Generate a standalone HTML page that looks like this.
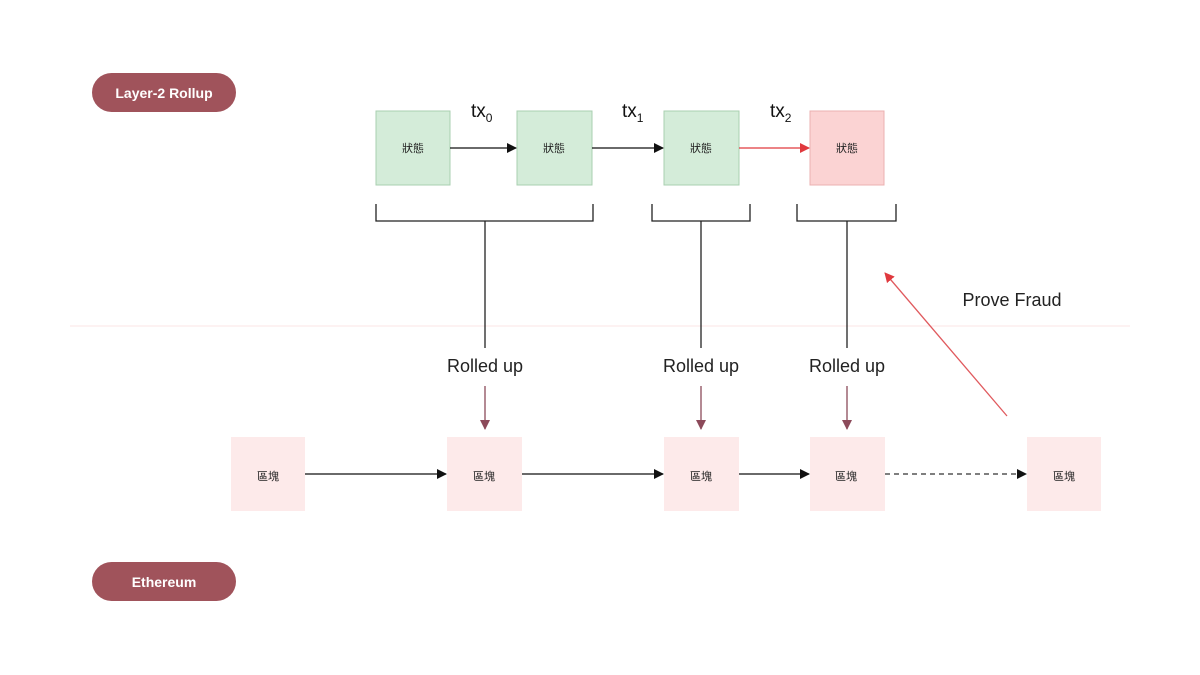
<!DOCTYPE html>
<html><head><meta charset="utf-8"><style>
html,body{margin:0;padding:0;background:#fff;width:1200px;height:675px;overflow:hidden}
</style></head><body>
<svg width="1200" height="675" viewBox="0 0 1200 675" xmlns="http://www.w3.org/2000/svg" font-family="Liberation Sans, 'Noto Sans CJK TC', sans-serif">
<defs>
<marker id="ab" markerWidth="10" markerHeight="10" refX="9" refY="5" orient="auto" markerUnits="userSpaceOnUse"><path d="M0,0 L10,5 L0,10 z" fill="#111"/></marker>
<marker id="ar" markerWidth="10" markerHeight="10" refX="9" refY="5" orient="auto" markerUnits="userSpaceOnUse"><path d="M0,0 L10,5 L0,10 z" fill="#e0393e"/></marker>
<marker id="am" markerWidth="10" markerHeight="10" refX="9" refY="5" orient="auto" markerUnits="userSpaceOnUse"><path d="M0,0 L10,5 L0,10 z" fill="#8c4a5a"/></marker>
</defs>
<line x1="70" y1="326" x2="1130" y2="326" stroke="#fbe4e4" stroke-width="1"/>
<rect x="92" y="73" width="144" height="39" rx="19.5" fill="#a0535b"/>
<text x="164" y="98" text-anchor="middle" fill="#fff" font-size="14" font-weight="bold">Layer-2 Rollup</text>
<rect x="92" y="562" width="144" height="39" rx="19.5" fill="#a0535b"/>
<text x="164" y="587" text-anchor="middle" fill="#fff" font-size="14" font-weight="bold">Ethereum</text>
<g font-size="11" text-anchor="middle" fill="#222">
<rect x="376" y="111" width="74" height="74" fill="#d4ecd9" stroke="#a9cfb0"/><text x="413" y="152">狀態</text>
<rect x="517" y="111" width="75" height="74" fill="#d4ecd9" stroke="#a9cfb0"/><text x="554" y="152">狀態</text>
<rect x="664" y="111" width="75" height="74" fill="#d4ecd9" stroke="#a9cfb0"/><text x="701" y="152">狀態</text>
<rect x="810" y="111" width="74" height="74" fill="#fbd3d3" stroke="#ebb0b0"/><text x="847" y="152">狀態</text>
</g>
<line x1="450" y1="148" x2="516" y2="148" stroke="#111" stroke-width="1.3" marker-end="url(#ab)"/>
<line x1="592" y1="148" x2="663" y2="148" stroke="#111" stroke-width="1.3" marker-end="url(#ab)"/>
<line x1="739" y1="148" x2="809" y2="148" stroke="#e0393e" stroke-width="1.3" marker-end="url(#ar)"/>
<g font-size="19" fill="#111">
<text x="471" y="117">tx<tspan font-size="12" dy="5">0</tspan></text>
<text x="622" y="117">tx<tspan font-size="12" dy="5">1</tspan></text>
<text x="770" y="117">tx<tspan font-size="12" dy="5">2</tspan></text>
</g>
<g stroke="#222" stroke-width="1.3" fill="none">
<path d="M376,204 V221 H593 V204"/><line x1="485" y1="221" x2="485" y2="348"/>
<path d="M652,204 V221 H750 V204"/><line x1="701" y1="221" x2="701" y2="348"/>
<path d="M797,204 V221 H896 V204"/><line x1="847" y1="221" x2="847" y2="348"/>
</g>
<g font-size="18" fill="#222" text-anchor="middle">
<text x="485" y="372">Rolled up</text>
<text x="701" y="372">Rolled up</text>
<text x="847" y="372">Rolled up</text>
<text x="1012" y="306">Prove Fraud</text>
</g>
<g stroke="#8c4a5a" stroke-width="1.3">
<line x1="485" y1="386" x2="485" y2="429" marker-end="url(#am)"/>
<line x1="701" y1="386" x2="701" y2="429" marker-end="url(#am)"/>
<line x1="847" y1="386" x2="847" y2="429" marker-end="url(#am)"/>
</g>
<line x1="1007" y1="416" x2="885" y2="273" stroke="#e05a5e" stroke-width="1.3" marker-end="url(#ar)"/>
<g font-size="11" text-anchor="middle" fill="#222">
<rect x="231" y="437" width="74" height="74" fill="#fdeaea"/><text x="268" y="480">區塊</text>
<rect x="447" y="437" width="75" height="74" fill="#fdeaea"/><text x="484" y="480">區塊</text>
<rect x="664" y="437" width="75" height="74" fill="#fdeaea"/><text x="701" y="480">區塊</text>
<rect x="810" y="437" width="75" height="74" fill="#fdeaea"/><text x="846" y="480">區塊</text>
<rect x="1027" y="437" width="74" height="74" fill="#fdeaea"/><text x="1064" y="480">區塊</text>
</g>
<line x1="305" y1="474" x2="446" y2="474" stroke="#111" stroke-width="1.3" marker-end="url(#ab)"/>
<line x1="522" y1="474" x2="663" y2="474" stroke="#111" stroke-width="1.3" marker-end="url(#ab)"/>
<line x1="739" y1="474" x2="809" y2="474" stroke="#111" stroke-width="1.3" marker-end="url(#ab)"/>
<line x1="885" y1="474" x2="1026" y2="474" stroke="#333" stroke-width="1.3" stroke-dasharray="5,4" marker-end="url(#ab)"/>
</svg>
</body></html>
